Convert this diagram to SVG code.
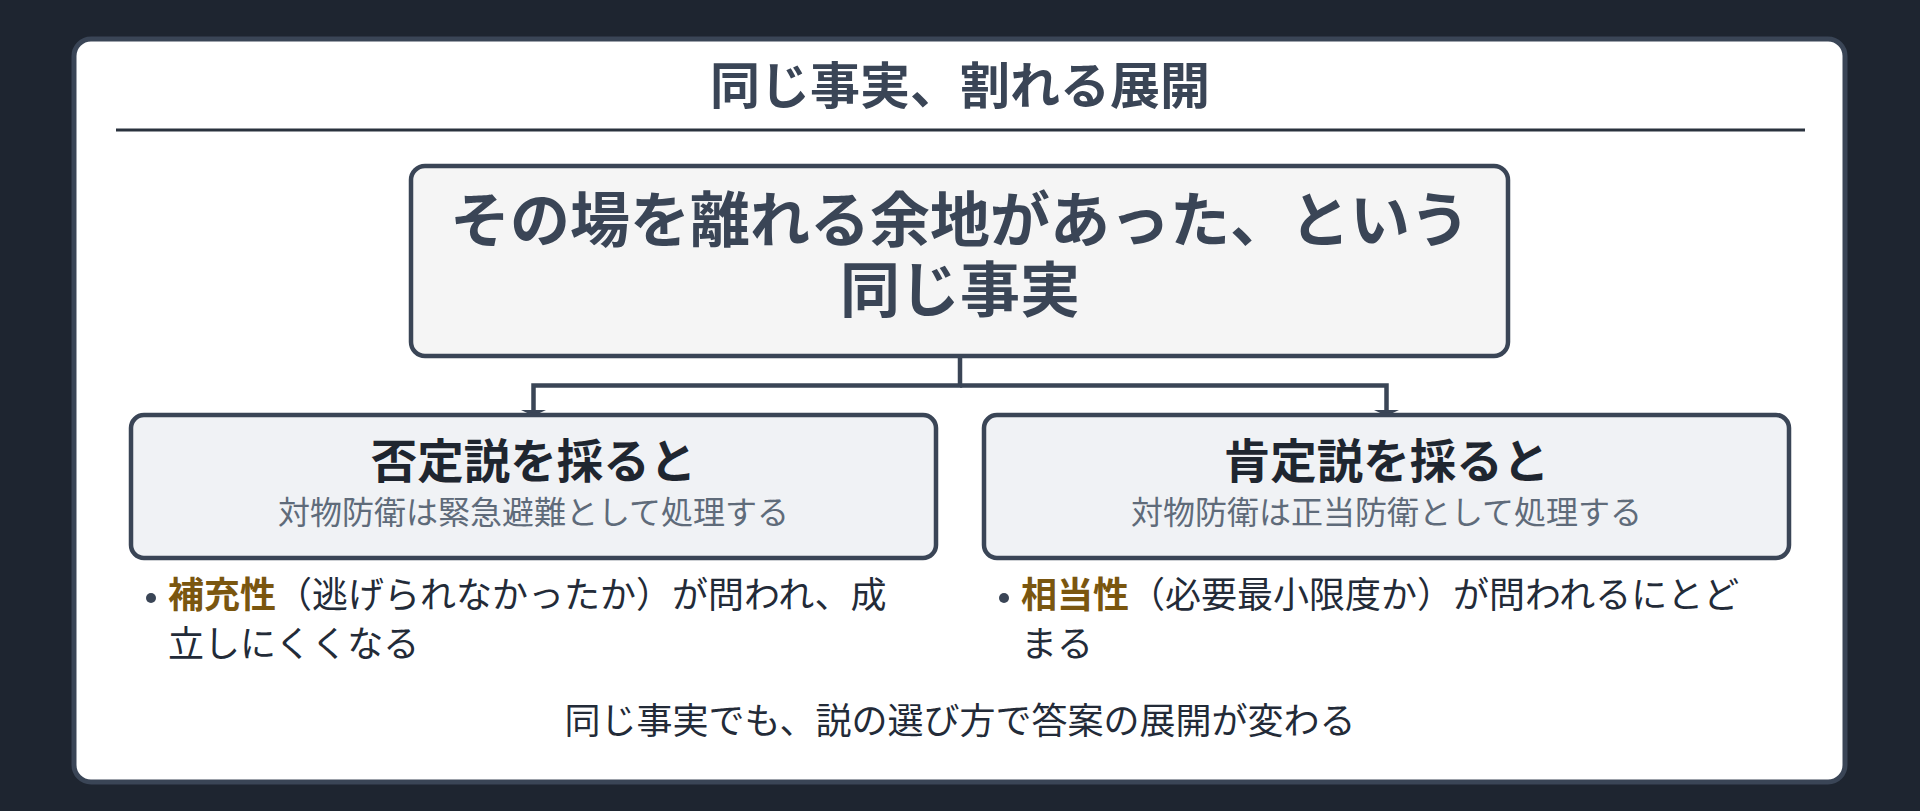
<svg xmlns="http://www.w3.org/2000/svg" width="1920" height="811" viewBox="0 0 1920 811">
  <style>
    text { font-family: "Noto Sans CJK JP", "Noto Sans", sans-serif; }
    .title { font-size: 50px; font-weight: 700; fill: #3a4556; text-anchor: middle; }
    .main { font-size: 60px; font-weight: 700; fill: #3a4556; text-anchor: middle; }
    .head { font-size: 46.5px; font-weight: 700; fill: #1f2630; text-anchor: middle; }
    .sub { font-size: 32px; font-weight: 400; fill: #5f6b7a; text-anchor: middle; }
    .body { font-size: 36px; font-weight: 400; fill: #232b38; }
    .key { font-weight: 700; fill: #7a560f; }
    .foot { font-size: 36px; font-weight: 400; fill: #232b38; text-anchor: middle; }
    .node { stroke: #3a4556; stroke-width: 4.5; }
    .conn { fill: none; stroke: #3a4556; stroke-width: 4.5; }
  </style>
  <rect x="0" y="0" width="1920" height="811" fill="#1e2530"/>
  <g id="card">
    <rect x="74" y="39" width="1771" height="743" rx="17" fill="#ffffff" stroke="#3a4556" stroke-width="5"/>
    <text class="title" x="960" y="104">同じ事実、割れる展開</text>
    <line x1="116" y1="130" x2="1805" y2="130" stroke="#2a323e" stroke-width="3"/>
  </g>
  <g id="connectors">
    <path class="conn" d="M960,356 V385.5 H533.5 V411"/>
    <path class="conn" d="M960,385.5 H1386.5 V411"/>
    <path d="M521,410 L546,410 L533.5,416 Z" fill="#3a4556"/>
    <path d="M1374,410 L1399,410 L1386.5,416 Z" fill="#3a4556"/>
  </g>
  <g id="node-fact">
    <rect class="node" x="411" y="166" width="1097" height="190" rx="14" fill="#f5f5f5"/>
    <text class="main" x="960" y="242">その場を離れる余地があった、という<tspan x="960" y="312">同じ事実</tspan></text>
  </g>
  <g id="node-negative">
    <rect class="node" x="131" y="415" width="805" height="143" rx="13" fill="#f0f2f5"/>
    <text class="head" x="533.5" y="478">否定説を採ると</text>
    <text class="sub" x="533.5" y="524">対物防衛は緊急避難として処理する</text>
  </g>
  <g id="node-positive">
    <rect class="node" x="984" y="415" width="805" height="143" rx="13" fill="#f0f2f5"/>
    <text class="head" x="1386.5" y="478">肯定説を採ると</text>
    <text class="sub" x="1386.5" y="524">対物防衛は正当防衛として処理する</text>
  </g>
  <g id="bullets-negative">
    <circle cx="151" cy="598" r="5" fill="#3a4556"/>
    <text class="body" x="168" y="608"><tspan class="key">補充性</tspan>（逃げられなかったか）が問われ、成</text>
    <text class="body" x="168" y="657">立しにくくなる</text>
  </g>
  <g id="bullets-positive">
    <circle cx="1004" cy="598" r="5" fill="#3a4556"/>
    <text class="body" x="1021" y="608"><tspan class="key">相当性</tspan>（必要最小限度か）が問われるにとど</text>
    <text class="body" x="1021" y="657">まる</text>
  </g>
  <g id="footer">
    <text class="foot" x="960" y="734">同じ事実でも、説の選び方で答案の展開が変わる</text>
  </g>
</svg>
